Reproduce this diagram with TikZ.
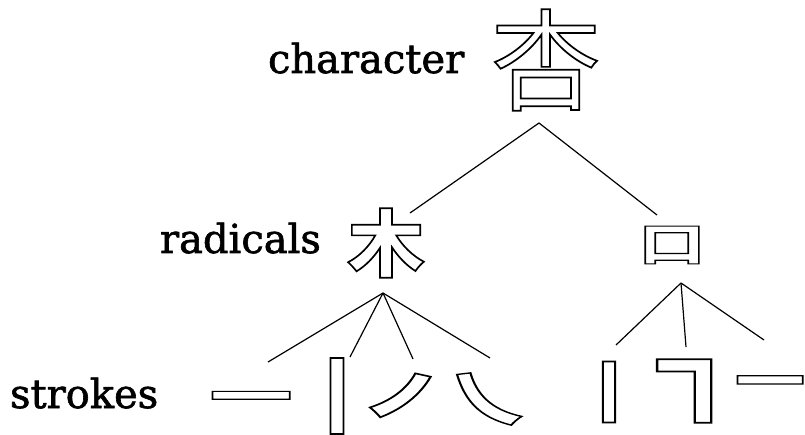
\documentclass[tikz,border=0pt]{standalone}
\usepackage{fontspec}
\setmainfont{DejaVu Serif}
\newfontfamily\cjk{Noto Sans CJK SC}
\newcommand\heavytext[1]{\special{pdf:literal direct 2 Tr 0.6 w}#1\special{pdf:literal direct 0 Tr}}
\tikzset{
  lbl/.style={anchor=base west, inner sep=0pt, outer sep=0pt, font=\fontsize{40}{48}\selectfont},
  glyph/.style={inner sep=0pt, outer sep=0pt, anchor=center},
  conn/.style={line width=1.2pt, draw=black},
}
\newcommand\outl[3]{\cjk#1\fontsize{#2}{#2}\selectfont\special{pdf:literal direct 1 Tr 1.7 w}#3\special{pdf:literal direct 0 Tr}}
\newcommand\hollowglyph[6]{%
  \node[glyph] (#1) at (#2,#3) {\outl{#6}{#4}{#5}};
}
\begin{document}
\begin{tikzpicture}[x=1pt,y=-1pt]
\fill[white] (0,0) rectangle (805,435);
\useasboundingbox (0,0) rectangle (805,435);
% labels
\node[lbl] (lchar) at (268,73) {\heavytext{character}};
\node[lbl] (lrad) at (160,253) {\heavytext{radicals}};
\node[lbl] (lstr) at (10,408) {\heavytext{strokes}};
% character
\hollowglyph{xing}{546}{60}{110}{杏}{\mdseries}
% radicals
\hollowglyph{mu}{386}{243}{77}{\scalebox{1}[0.95]{木}}{\bfseries}
\hollowglyph{kou}{672}{245}{66}{\scalebox{1}[0.68]{口}}{\bfseries}
% strokes of mu
\hollowglyph{s1}{251}{403}{83}{\scalebox{1}[0.6]{一}}{\bfseries}
\hollowglyph{s2}{337}{396}{80}{丨}{\bfseries}
\hollowglyph{s3}{415}{404}{80}{\scalebox{1.3}[0.95]{㇒}}{\bfseries}
\hollowglyph{s4}{486}{399}{80}{\scalebox{1.25}[0.8]{㇏}}{\bfseries}
% strokes of kou
\hollowglyph{t1}{609}{392}{64}{\scalebox{1.2}[1]{丨}}{\bfseries}
\hollowglyph{t2}{683}{391}{75}{\scalebox{1.38}[1.1]{㇕}}{\bfseries}
\hollowglyph{t3}{770}{388}{70}{\scalebox{1}[0.75]{一}}{\bfseries}
% junction points
\coordinate (jx) at (539,123);
\coordinate (jm) at (383,293);
\coordinate (jk) at (681,283);
\coordinate (em) at (410,213);
\coordinate (ek) at (657,215);
\coordinate (e1) at (268,362);
\coordinate (e2) at (350,357);
\coordinate (e3) at (413,359);
\coordinate (e4) at (490,358);
\coordinate (f1) at (616,345);
\coordinate (f2) at (686,347);
\coordinate (f3) at (764,340);
\draw[conn] (em) -- (jx) -- (ek);
\draw[conn] (jm) -- (e1);
\draw[conn] (jm) -- (e2);
\draw[conn] (jm) -- (e3);
\draw[conn] (jm) -- (e4);
\draw[conn] (jk) -- (f1);
\draw[conn] (jk) -- (f2);
\draw[conn] (jk) -- (f3);
\end{tikzpicture}
\end{document}
